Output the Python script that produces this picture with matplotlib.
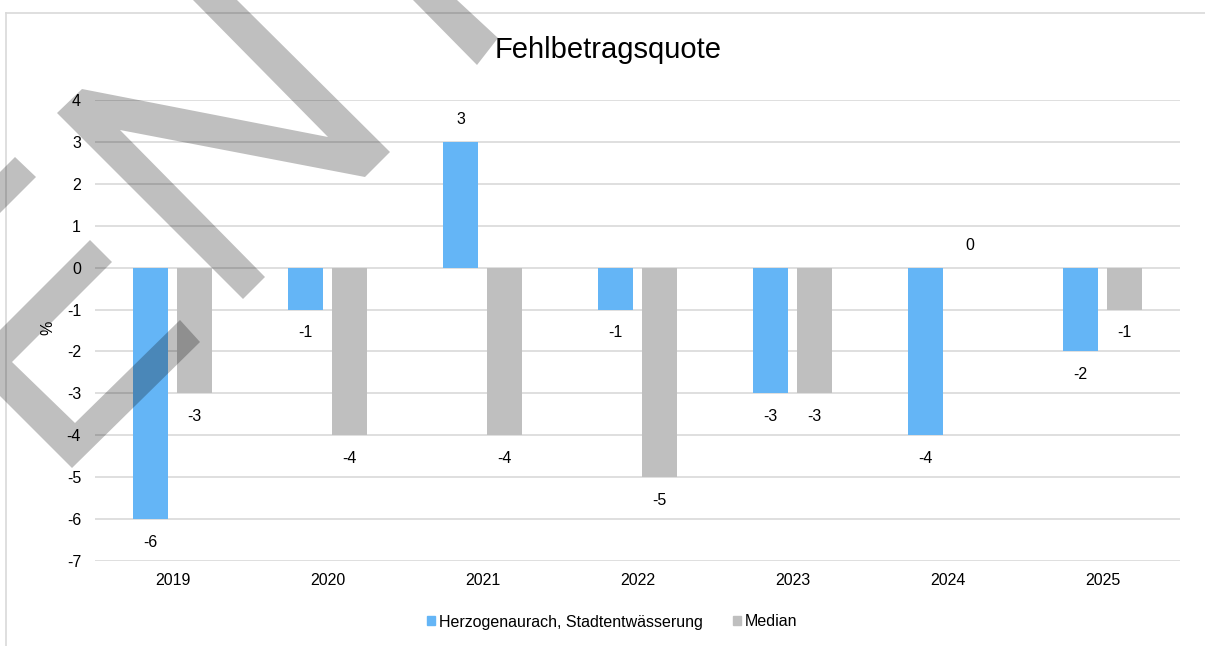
"""
Fehlbetragsquote - Herzogenaurach, Stadtentwaesserung vs. Median
"""

import numpy as np
import matplotlib
matplotlib.use('Agg')
import matplotlib.pyplot as plt
from matplotlib.patches import Patch, Polygon
from matplotlib.lines import Line2D

#---------------------------------------------------------------------------------------------------
# Input Parameters
#---------------------------------------------------------------------------------------------------

years = ['2019', '2020', '2021', '2022', '2023', '2024', '2025']
herzo = [-6, -1, 3, -1, -3, -4, -2]
median = [-3, -4, -4, -5, -3, 0, -1]

series_names = ['Herzogenaurach, Stadtentwässerung', 'Median']
title = 'Fehlbetragsquote'
ylabel = '%'

yticks = list(range(-7, 5))

c_blue = '#64B5F6'
c_gray = '#BFBFBF'
c_grid = '#D9D9D9'

# Watermark strokes (figure pixels, origin top left)
watermark = [
    [(237, 0), (390, 152), (365, 177), (120, 130), (265, 277), (243, 299),
     (57, 113), (82, 89), (328, 137), (193, 0)],
    [(413, 0), (457, 0), (498, 38), (477, 65)],
    [(15, 157), (36, 177), (0, 213), (0, 172)],
    [(90, 240), (112, 262), (12, 362), (75, 423), (180, 320), (200, 342),
     (72, 468), (-33, 363)],
]

#---------------------------------------------------------------------------------------------------
# Plot
#---------------------------------------------------------------------------------------------------

plt.rcParams['font.family'] = ['Liberation Sans', 'DejaVu Sans']
plt.rcParams['axes.unicode_minus'] = False

fs = 11.5

W, H = 1205, 646
fig = plt.figure(figsize=(W / 100, H / 100), dpi=100)
ax = fig.add_axes([95 / W, 1 - 561 / H, 1085 / W, 461 / H])

x = np.arange(len(years))
bw = 0.22
off = 0.142
b1 = ax.bar(x - off, herzo, bw, color=c_blue, zorder=3)
b2 = ax.bar(x + off, median, bw, color=c_gray, zorder=3)

for bars, vals in zip([b1, b2], [herzo, median]):
    for rect, v in zip(bars, vals):
        dy = 16 if v >= 0 else -16.5
        ax.annotate('%d' % v, (rect.get_x() + rect.get_width() / 2, v),
                    xytext=(0, dy), textcoords='offset points',
                    ha='center', va='center', fontsize=fs, color='#000000')

ax.set_xlim(-0.5, len(years) - 0.5)
ax.set_ylim(-7, 4)
ax.set_yticks(yticks)
ax.set_xticks(x)
ax.set_xticklabels(years)
ax.tick_params(axis='both', length=0, labelsize=fs, colors='#000000')
ax.tick_params(axis='y', pad=10)
ax.tick_params(axis='x', pad=8.5)
ax.grid(axis='y', color=c_grid, lw=1.2, zorder=0)
ax.set_axisbelow(True)
for s in ax.spines.values():
    s.set_visible(False)

fig.text(608 / W, 1 - 50 / H, title, ha='center', va='center', fontsize=21)
fig.text(48 / W, 1 - 328 / H, ylabel, ha='center', va='center', rotation=90, fontsize=fs)

handles = [Patch(color=c_blue), Patch(color=c_gray)]
fig.legend(handles, series_names, loc='center', bbox_to_anchor=(612 / W, 1 - 622 / H),
           ncol=2, frameon=False, fontsize=fs, handlelength=0.5, handleheight=0.5,
           handletextpad=0.25, columnspacing=1.9)

# Chart area border (left and top only visible)
fig.add_artist(Line2D([6 / W, 6 / W], [0, 1 - 13 / H], color=c_grid, lw=1.2))
fig.add_artist(Line2D([6 / W, 1], [1 - 13 / H, 1 - 13 / H], color=c_grid, lw=1.2))

# Watermark overlay
for poly in watermark:
    pts = [(px / W, 1 - py / H) for px, py in poly]
    fig.add_artist(Polygon(pts, closed=True, facecolor='#000000', edgecolor='none',
                           alpha=0.25, zorder=10))

fig.savefig('out.png', dpi=100)
